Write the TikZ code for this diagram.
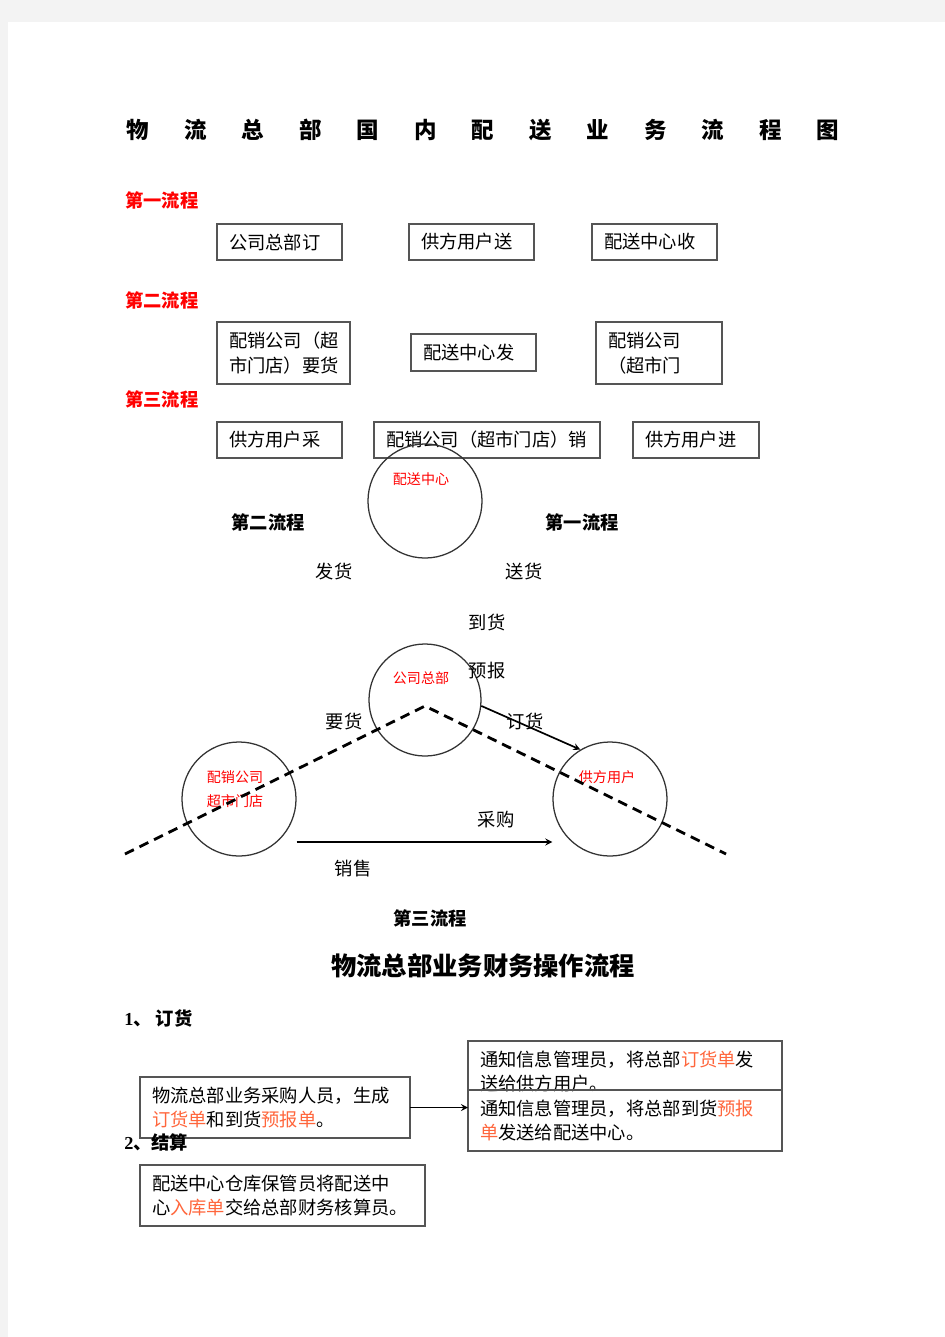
\documentclass[tikz,border=0pt]{standalone}
\usepackage{fontspec}
\setmainfont{Noto Sans CJK SC}
\newfontfamily\numfont{Liberation Serif}
\usetikzlibrary{shapes,arrows,positioning,calc}
\definecolor{pagegray}{RGB}{243,243,243}
\definecolor{boxline}{RGB}{85,85,85}
\definecolor{notered}{RGB}{255,102,60}
\newcommand{\marked}[1]{\textcolor{notered}{#1}}

\begin{document}
\begin{tikzpicture}[x=0.025cm, y=-0.025cm,
    box/.style={rectangle, draw=boxline, line width=0.9pt, anchor=north west, align=left, outer sep=0pt, inner xsep=0.3cm, inner ysep=0pt, font=\fontsize{13}{17.5}\selectfont},
    stage/.style={circle, draw=black!80, line width=0.9pt, minimum size=2.85cm, inner sep=0pt},
    stagename/.style={red, align=center, font=\fontsize{10}{17}\selectfont},
    flowtag/.style={anchor=west, red, inner sep=0pt, font=\fontsize{13}{15}\selectfont\bfseries},
    flowname/.style={inner sep=0pt, font=\fontsize{13}{15}\selectfont\bfseries},
    act/.style={inner sep=0pt, font=\fontsize{13}{15}\selectfont},
    arrow/.style={->, line width=1.2pt, >=stealth},
    route/.style={dashed, line width=2pt, dash pattern=on 7pt off 4.5pt}
]
    % page
    \fill[pagegray] (0,0) rectangle (945,1337);
    \fill[white] (8,22) rectangle (945,1337);

    % Title
    \foreach \c [count=\i from 0] in {物,流,总,部,国,内,配,送,业,务,流,程,图}
        \node[inner sep=0pt, font=\fontsize{16}{18}\selectfont\bfseries] (title\i) at (138+57.5*\i, 130) {\c};

    % Flows
    \node[flowtag] (tag1) at (125,200) {第一流程};
    \node[box, text width=2.525cm, minimum height=0.9cm] (order1) at (217,224) {公司总部订};
    \node[box, text width=2.525cm, minimum height=0.9cm] (deliver1) at (409,224) {供方用户送};
    \node[box, text width=2.525cm, minimum height=0.9cm] (receive1) at (592,224) {配送中心收};

    \node[flowtag] (tag2) at (125,300) {第二流程};
    \node[box, text width=2.725cm, minimum height=1.55cm] (request2) at (217,322) {配销公司（超\\市门店）要货};
    \node[box, text width=2.525cm, minimum height=0.925cm] (ship2) at (411,334) {配送中心发};
    \node[box, text width=2.55cm, minimum height=1.55cm] (store2) at (596,322) {配销公司\\（超市门};

    \node[flowtag] (tag3) at (125,399) {第三流程};
    \node[box, text width=2.525cm, minimum height=0.9cm] (buy3) at (217,422) {供方用户采};
    \node[box, text width=5.05cm, minimum height=0.9cm] (sell3) at (374,422) {配销公司（超市门店）销};
    \node[box, text width=2.55cm, minimum height=0.9cm] (stock3) at (633,422) {供方用户进};

    % Circles
    \node[stage] (dc) at (425,501) {};
    \node[stage, minimum size=2.8cm] (hq) at (425,700) {};
    \node[stage] (shop) at (239,799) {};
    \node[stage] (supplier) at (610,799) {};
    \node[stagename] (dcname) at (421,479) {配送中心};
    \node[stagename] (hqname) at (421,678) {公司总部};
    \node[stagename] (shopname) at (235,789) {配销公司\\超市门店};
    \node[stagename] (suppliername) at (607,777) {供方用户};

    % Dashed route
    \coordinate (routeL) at (125,854);
    \coordinate (routeM) at (425,706);
    \coordinate (routeR) at (726,854);
    \draw[route] (routeL) -- (routeM) -- (routeR);

    % Arrows
    \draw[arrow] (hq.-6) -- (supplier.121);
    \draw[arrow] ($(shop.east)+(0,43)$) -- ($(supplier.west)+(0,43)$);

    % Labels
    \node[flowname] (f2) at (268,522) {第二流程};
    \node[flowname] (f1) at (582,522) {第一流程};
    \node[flowname] (f3) at (430,918) {第三流程};
    \node[act] (lship) at (334,572) {发货};
    \node[act] (ldeliver) at (524,572) {送货};
    \node[act] (larrive) at (487,622) {到货};
    \node[act] (lnotice) at (487,671) {预报};
    \node[act] (lrequest) at (344,721) {要货};
    \node[act] (lorder) at (525,721) {订货};
    \node[act] (lbuy) at (496,820) {采购};
    \node[act] (lsell) at (353,869) {销售};

    % Finance flow
    \node[inner sep=0pt, font=\fontsize{18}{20}\selectfont\bfseries] (title2) at (483,966) {物流总部业务财务操作流程};
    \node[anchor=west, inner sep=0pt, font=\fontsize{13}{15}\selectfont\bfseries] (step1) at (124,1018) {{\numfont 1}、\ 订货};
    \node[box, text width=6.15cm, minimum height=1.525cm] (buyer) at (140,1077) {物流总部业务采购人员，生成\\\marked{订货单}和到货\marked{预报单}。};
    \node[box, text width=7.25cm, minimum height=1.225cm, text height=15.7pt, text depth=14.8pt] (notify1) at (468,1041) {通知信息管理员，将总部\marked{订货单}发\\送给供方用户。};
    \node[box, text width=7.25cm, minimum height=1.525cm] (notify2) at (notify1.south west) {通知信息管理员，将总部到货\marked{预报}\\\marked{单}发送给配送中心。};
    \draw[arrow] (buyer.east) -- (buyer.east -| notify2.west);
    \node[anchor=west, inner sep=0pt, font=\fontsize{13}{15}\selectfont\bfseries] (step2) at (124,1142) {{\numfont 2}、结算};
    \node[box, text width=6.525cm, minimum height=1.525cm] (keeper) at (140,1165) {配送中心仓库保管员将配送中\\心\marked{入库单}交给总部财务核算员。};
\end{tikzpicture}
\end{document}
